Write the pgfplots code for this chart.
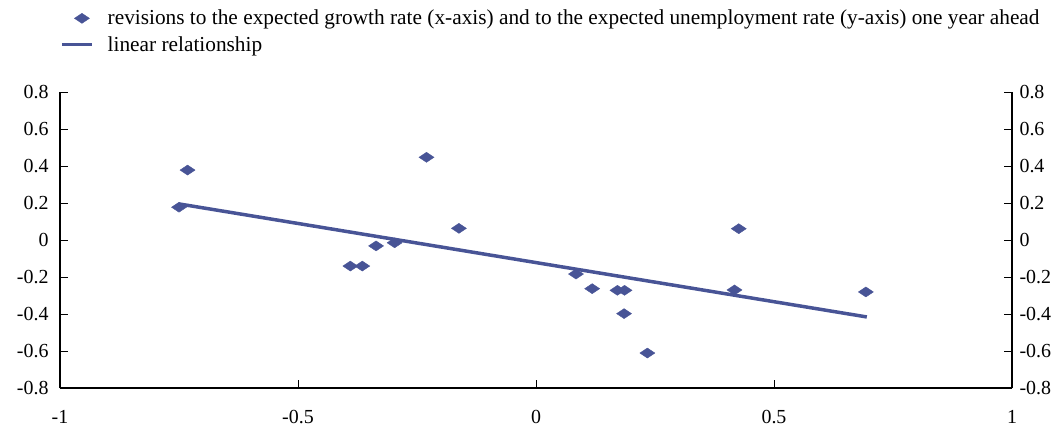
\documentclass[border=0pt]{standalone}
\usepackage{fontspec}
\setmainfont{Liberation Serif}
\usepackage{pgfplots}
\pgfplotsset{compat=1.18}
\definecolor{pts}{RGB}{72,84,150}
\pgfplotsset{
  mleg/.style={legend image code/.code={\draw[##1, mark repeat=2, mark phase=2] plot coordinates {(0bp,0bp)(20bp,0bp)(30bp,0bp)};}},
  lleg/.style={legend image code/.code={\draw[##1] (0bp,0bp) -- (30bp,0bp);}},
  common/.style={
    at={(0,0)}, anchor=south west,
    scale only axis, width=952bp, height=296bp,
    xmin=-1, xmax=1, ymin=-0.8, ymax=0.8,
    ytick={-0.8,-0.6,-0.4,-0.2,0,0.2,0.4,0.6,0.8},
    yticklabels={-0.8,-0.6,-0.4,-0.2,0,0.2,0.4,0.6,0.8},
    tick align=inside, major tick length=8bp,
    axis line style={line width=1.2bp, black},
    tick style={line width=0.8bp, black},
    tick label style={font=\fontsize{20}{23}\selectfont},
    /pgf/number format/assume math mode=true,
    clip=false,
  }
}
\begin{document}
\begin{tikzpicture}
\begin{axis}[common,
  axis x line*=bottom, axis y line*=left,
  xtick={-1,-0.5,0,0.5,1},
  xticklabels={-1,-0.5,0,0.5,1},
  xticklabel style={yshift=-19bp},
  yticklabel style={xshift=-8bp},
  legend style={at={(axis description cs:0,1)}, anchor=north west,
    xshift=0bp, yshift=84bp, draw=none, fill=none, inner sep=0pt,
    font=\fontsize{21.4}{24}\selectfont, row sep=6bp,
    nodes={inner sep=2bp}},
  legend cell align=left,
]
\addplot[only marks, mark=diamond*, mark size=5bp, color=pts,
  mark options={xscale=2, fill=pts, draw=pts}, mleg]
coordinates {
(-0.750,0.177) (-0.732,0.378) (-0.390,-0.141) (-0.365,-0.141) (-0.336,-0.032)
(-0.297,-0.015) (-0.230,0.447) (-0.162,0.063) (0.084,-0.184) (0.118,-0.263)
(0.171,-0.272) (0.186,-0.272) (0.185,-0.398) (0.234,-0.611) (0.417,-0.270)
(0.426,0.061) (0.693,-0.281)
};
\addlegendentry{\hspace{12bp}revisions to the expected growth rate (x-axis) and to the expected unemployment rate (y-axis) one year ahead}
\addplot[color=pts, line width=3.5bp, lleg]
coordinates {(-0.750,0.195) (0.695,-0.416)};
\addlegendentry{\hspace{12bp}linear relationship}
\end{axis}
\begin{axis}[common,
  axis x line=none, axis y line*=right,
  yticklabel style={xshift=4bp},
]
\addplot[draw=none] coordinates {(0,0)};
\end{axis}
\pgfresetboundingbox
\path (-60bp,-46bp) rectangle (1000bp,388bp);
\end{tikzpicture}
\end{document}
